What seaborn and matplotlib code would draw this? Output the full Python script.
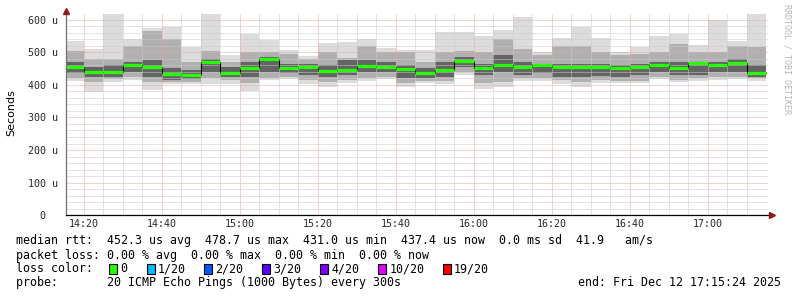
import numpy as np
import pandas as pd
import matplotlib
matplotlib.use("Agg")
import matplotlib.pyplot as plt
from matplotlib.patches import Rectangle
import seaborn as sns

# ---------------- data ----------------
# 5-minute bins, start minute after 14:00 (14:15 ... 17:10)
bin_start = [15, 20, 25, 30, 35, 40, 45, 50, 55, 60, 65, 70, 75, 80, 85, 90, 95, 100,
             105, 110, 115, 120, 125, 130, 135, 140, 145, 150, 155, 160, 165, 170, 175,
             180, 185, 190]
# smoke: outer range (min..max), middle band, inner dark band, median (microseconds)
outer_lo = [411, 377, 408, 415, 385, 401, 401, 401, 403, 382, 414, 418, 402, 392, 406, 412, 417, 394,
            404, 402, 430, 386, 393, 413, 411, 403, 393, 405, 405, 405, 418, 408, 411, 416, 417, 411]
outer_hi = [533, 510, 616, 540, 573, 577, 515, 616, 490, 557, 536, 507, 488, 527, 531, 539, 513, 508,
            508, 562, 561, 549, 568, 609, 502, 544, 577, 544, 502, 515, 549, 556, 523, 599, 533, 616]
mid_lo = [420, 408, 418, 425, 410, 410, 410, 420, 415, 405, 420, 425, 415, 410, 415, 420, 425, 405,
          412, 412, 440, 405, 410, 420, 420, 415, 410, 415, 412, 412, 425, 415, 420, 425, 425, 420]
mid_hi = [505, 480, 480, 520, 565, 540, 470, 505, 470, 500, 500, 495, 480, 500, 482, 520, 500, 500,
          470, 500, 505, 500, 540, 510, 490, 520, 520, 500, 490, 495, 500, 525, 500, 500, 520, 515]
dark_lo = [435, 425, 425, 440, 425, 415, 418, 440, 425, 425, 440, 435, 430, 425, 430, 440, 440, 420,
           420, 425, 455, 430, 440, 430, 435, 425, 425, 428, 425, 430, 440, 430, 430, 440, 440, 425]
dark_hi = [470, 455, 460, 470, 475, 450, 445, 480, 455, 470, 485, 465, 465, 460, 475, 475, 470, 460,
           450, 470, 485, 465, 490, 470, 465, 465, 465, 465, 460, 465, 470, 470, 465, 470, 480, 460]
median = [455, 438, 440, 460, 453, 432, 431, 469, 437, 452, 479, 451, 453, 441, 444, 457, 454, 447,
          437, 444, 473, 450, 462, 456, 462, 456, 453, 453, 450, 456, 462, 452, 467, 462, 467, 437]

xtick_pos = [20, 40, 60, 80, 100, 120, 140, 160, 180]
xtick_labels = ["14:20", "14:40", "15:00", "15:20", "15:40", "16:00", "16:20", "16:40", "17:00"]
ytick_pos = [0, 100, 200, 300, 400, 500, 600]
ytick_labels = ["0  ", "100 u", "200 u", "300 u", "400 u", "500 u", "600 u"]

loss_labels = ["0", "1/20", "2/20", "3/20", "4/20", "10/20", "19/20"]
loss_colors = ["#26ff00", "#00b8ff", "#0059ff", "#5e00ff", "#7e00ff", "#dd00ff", "#ff0000"]

legend_lines = [
    "median rtt:  452.3 us avg  478.7 us max  431.0 us min  437.4 us now  0.0 ms sd  41.9   am/s",
    "packet loss: 0.00 % avg  0.00 % max  0.00 % min  0.00 % now",
    "loss color:",
    "probe:       20 ICMP Echo Pings (1000 Bytes) every 300s",
]
end_text = "end: Fri Dec 12 17:15:24 2025"

df = pd.DataFrame({"start": bin_start, "median": median})

# ---------------- figure ----------------
sns.set_style("white")
plt.rcParams["font.family"] = ["DejaVu Sans Mono", "DejaVu Sans"]

W, H = 797, 297
fig = plt.figure(figsize=(W / 100, H / 100), dpi=100)
fig.patch.set_facecolor("white")

ax_left, ax_right, ax_bottom, ax_top = 66, 768, 215.3, 13
ax = fig.add_axes([ax_left / W, (H - ax_bottom) / H, (ax_right - ax_left) / W, (ax_bottom - ax_top) / H])
ax.set_facecolor("white")

starts = np.array(bin_start, dtype=float)
width = 5.0
layers = [(outer_lo, outer_hi, "#dcdcdc"), (mid_lo, mid_hi, "#b0b0b0"), (dark_lo, dark_hi, "#646464")]
for lo, hi, col in layers:
    lo = np.array(lo, float)
    hi = np.array(hi, float)
    ax.bar(starts, hi - lo, bottom=lo, width=width, align="edge", color=col, linewidth=0, zorder=1)

# median: black step line + green loss-colour band
edges = list(bin_start) + [bin_start[-1] + 5]
step_df = pd.DataFrame({"x": edges, "y": list(median) + [median[-1]]})
sns.lineplot(data=step_df, x="x", y="y", drawstyle="steps-post", color="black", lw=0.8,
             estimator=None, ax=ax, zorder=4)
ax.hlines(df["median"], df["start"], df["start"] + width, color=loss_colors[0], lw=2.3, zorder=5)

ax.set_xlim(15.4, 195.4)
ax.set_ylim(0, 620)

ax.set_xticks(xtick_pos)
ax.set_xticklabels(xtick_labels)
ax.set_xticks(np.arange(20, 195, 5), minor=True)
ax.set_yticks(ytick_pos)
ax.set_yticklabels(ytick_labels)
ax.set_yticks(np.arange(0, 601, 20), minor=True)
ax.set_xlabel("")
ax.set_ylabel("")

ax.set_axisbelow(False)
ax.grid(which="minor", color="#cbcbcb", linestyle=(0, (1, 1)), lw=0.72)
ax.grid(which="major", color="#eaa8a8", linestyle=(0, (1, 1)), lw=0.72)

ax.tick_params(axis="both", which="both", length=0)
ax.tick_params(axis="x", pad=3, labelsize=7.2)
ax.tick_params(axis="y", pad=6, labelsize=7.2)
for lab in ax.get_xticklabels() + ax.get_yticklabels():
    lab.set_family("DejaVu Sans Mono")

for s in ["top", "right"]:
    ax.spines[s].set_visible(False)
ax.spines["left"].set_color("#707070")
ax.spines["left"].set_linewidth(0.9)
ax.spines["bottom"].set_color("black")
ax.spines["bottom"].set_linewidth(0.9)
ax.spines["left"].set_zorder(6)
ax.spines["bottom"].set_zorder(6)

# axis arrows
ax.plot([1.0, 1.004], [0, 0], transform=ax.transAxes, color="black", lw=0.9, clip_on=False, zorder=6)
ax.plot([1.006], [0], marker=">", ms=4, color="#8b1a1a", transform=ax.transAxes, clip_on=False, zorder=7)
ax.plot([0], [1.012], marker="^", ms=4, color="#8b1a1a", transform=ax.transAxes, clip_on=False, zorder=7)

# y label
fig.text(11 / W, 1 - 113 / H, "Seconds", rotation=90, ha="center", va="center",
         family="DejaVu Sans", fontsize=8, color="black")
# watermark
fig.text(787 / W, 1 - 4 / H, "RRDTOOL / TOBI OETIKER", rotation=270, ha="center", va="top",
         fontsize=6, color="#b4b4b4", family="DejaVu Sans Mono")

# legend text lines
fs = 8.4
line_y = [240.7, 255.0, 268.7, 282.7]
for txt, yy in zip(legend_lines, line_y):
    fig.text(16 / W, 1 - yy / H, txt, ha="left", va="center", fontsize=fs,
             family="DejaVu Sans Mono", color="black")
fig.text(578 / W, 1 - line_y[3] / H, end_text, ha="left", va="center", fontsize=fs,
         family="DejaVu Sans Mono", color="black")

# loss colour boxes
sq_x = [109.3, 146.7, 204.0, 262.0, 320.0, 378.3, 442.7]
for x0, lab, col in zip(sq_x, loss_labels, loss_colors):
    fig.patches.append(Rectangle((x0 / W, 1 - (line_y[2] + 5) / H), 8 / W, 10 / H,
                                 transform=fig.transFigure, facecolor=col, edgecolor="black",
                                 linewidth=0.8))
    fig.text((x0 + 11) / W, 1 - line_y[2] / H, lab, ha="left", va="center", fontsize=fs,
             family="DejaVu Sans Mono", color="black")

fig.savefig("out.png", dpi=100, facecolor="white")
